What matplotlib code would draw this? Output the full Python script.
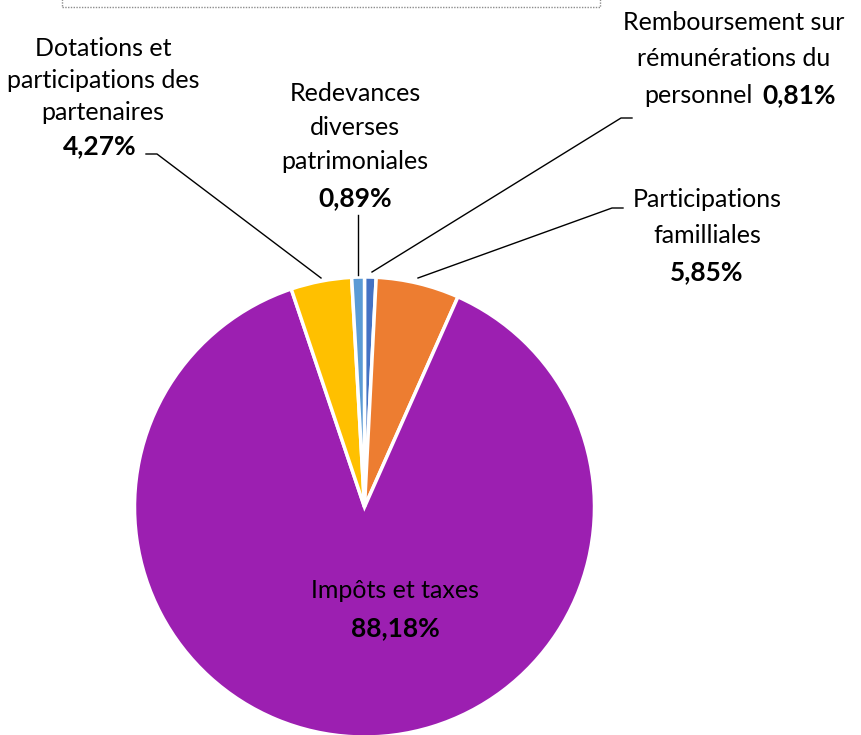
import matplotlib
matplotlib.use("Agg")
import matplotlib.pyplot as plt
from matplotlib.patches import Rectangle

labels = ["Remboursement sur\nrémunérations du\npersonnel", "Participations\nfamilliales",
          "Impôts et taxes", "Dotations et\nparticipations des\npartenaires",
          "Redevances\ndiverses\npatrimoniales"]
values = [0.81, 5.85, 88.18, 4.27, 0.89]
pct_text = ["0,81%", "5,85%", "88,18%", "4,27%", "0,89%"]
colors = ["#4472C4", "#ED7D31", "#9C1FB1", "#FFC000", "#5B9BD5"]

W, H = 861, 735
fig = plt.figure(figsize=(W / 100, H / 100), dpi=100)
ax = fig.add_axes([0, 0, 1, 1])

def Y(py):
    return H - py

ax.pie(values, colors=colors, startangle=90, counterclock=False,
       center=(364.5, Y(507)), radius=230, frame=True,
       wedgeprops=dict(edgecolor="white", linewidth=2.5))
ax.set_xlim(0, W)
ax.set_ylim(0, H)
ax.set_aspect("equal")
ax.axis("off")

fam = ["Lato", "DejaVu Sans"]
fs = 18
fsb = 19
lw = 1.0

def lines(x, ys, texts):
    for yy, t in zip(ys, texts):
        ax.text(x, Y(yy), t, ha="center", va="center", fontsize=fs, family=fam)

def pct(x, yy, t):
    ax.text(x, Y(yy), t, ha="center", va="center", fontsize=fsb, family=fam,
            fontweight="bold")

# top box (partially visible)
ax.add_patch(Rectangle((62, Y(7)), 538, 50, fill=False, edgecolor="#8c8c8c",
                       linestyle=(0, (1, 1)), linewidth=1.0))

# Dotations
lines(103, [48, 80, 112], labels[3].split("\n"))
pct(100, 146, pct_text[3])
ax.plot([146, 157, 321], [Y(154), Y(154), Y(278)], color="black", lw=lw)

# Redevances
lines(355, [93, 127, 161], labels[4].split("\n"))
pct(355, 198, pct_text[4])
ax.plot([358, 358], [Y(215), Y(275)], color="black", lw=lw)

# Remboursement
rb = labels[0].split("\n")
lines(734, [22, 58], rb[:2])
ax.text(753, Y(95), rb[2], ha="right", va="center", fontsize=fs, family=fam)
ax.text(762, Y(95), pct_text[0], ha="left", va="center", fontsize=fsb,
        family=fam, fontweight="bold")
ax.plot([632, 621, 372], [Y(118), Y(118), Y(272)], color="black", lw=lw)

# Participations familliales
lines(707, [199, 235], labels[1].split("\n"))
pct(707, 272, pct_text[1])
ax.plot([623, 612, 418], [Y(208), Y(208), Y(278)], color="black", lw=lw)

# Impôts et taxes
lines(395, [590], [labels[2]])
pct(395, 628, pct_text[2])

fig.savefig("out.png", dpi=100)
